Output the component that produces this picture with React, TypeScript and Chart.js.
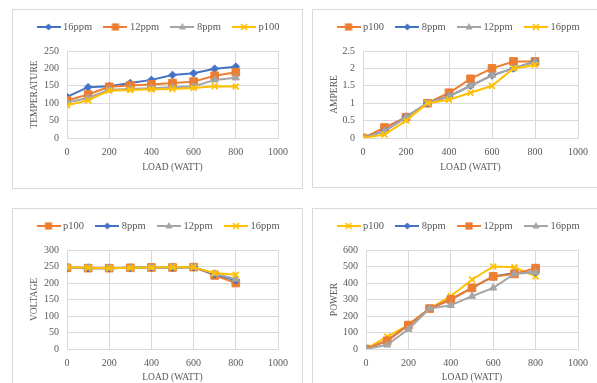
import React, { useEffect, useRef } from 'react';
import { Chart, registerables } from 'chart.js';

Chart.register(...registerables);

// ---------- data ----------
const loadWatt = [0, 100, 200, 300, 400, 500, 600, 700, 800];
const xTickValues = [0, 200, 400, 600, 800, 1000];

// Temperature chart
const temp16ppm = [118, 146, 149, 158, 167, 181, 186, 199, 205];
const temp12ppm = [108, 125, 147, 151, 154, 158, 162, 179, 189];
const temp8ppm = [102, 115, 139, 141, 143, 146, 148, 167, 173];
const tempP100 = [94, 108, 136, 138, 140, 141, 144, 149, 148];
const tempTicks = [0, 50, 100, 150, 200, 250];

// Ampere chart
const ampP100 = [0, 0.3, 0.6, 1.0, 1.3, 1.7, 2.0, 2.2, 2.2];
const amp8ppm = [0, 0.2, 0.6, 1.0, 1.2, 1.5, 1.8, 2.0, 2.2];
const amp12ppm = [0, 0.2, 0.6, 1.0, 1.2, 1.5, 1.8, 2.0, 2.2];
const amp16ppm = [0, 0.1, 0.5, 1.0, 1.1, 1.3, 1.5, 2.0, 2.1];
const ampTicks = [0, 0.5, 1, 1.5, 2, 2.5];

// Voltage chart
const voltP100 = [246, 245, 245, 246, 247, 247, 248, 223, 200];
const volt8ppm = [247, 245, 245, 246, 247, 247, 248, 226, 208];
const volt12ppm = [247, 246, 245, 246, 247, 248, 248, 228, 212];
const volt16ppm = [248, 246, 245, 246, 247, 248, 248, 230, 225];
const voltTicks = [0, 50, 100, 150, 200, 250, 300];

// Power chart
const powP100 = [0, 75, 145, 245, 320, 420, 500, 495, 440];
const pow8ppm = [0, 50, 145, 245, 300, 370, 440, 460, 465];
const pow12ppm = [0, 50, 145, 245, 300, 370, 440, 455, 490];
const pow16ppm = [0, 25, 120, 245, 265, 320, 370, 455, 465];
const powTicks = [0, 100, 200, 300, 400, 500, 600];

// ---------- styles ----------
const FONT = "'Liberation Serif', 'Times New Roman', serif";
const TEXT = '#595959';
const GRID = '#d9d9d9';
const BLUE = '#4472C4';
const ORANGE = '#ED7D31';
const GRAY = '#A5A5A5';
const YELLOW = '#FFC000';

type Marker = 'diamond' | 'square' | 'triangle' | 'x';
type Series = { label: string; data: number[]; color: string; marker: Marker };

const markerStyle: Record<Marker, { style: any; radius: number; bw: number }> = {
  diamond: { style: 'rectRot', radius: 3.8, bw: 1 },
  square: { style: 'rect', radius: 5.4, bw: 1 },
  triangle: { style: 'triangle', radius: 4.2, bw: 1 },
  x: { style: 'crossRot', radius: 4.2, bw: 1.8 },
};

function legendImage(color: string, marker: Marker): HTMLCanvasElement {
  const c = document.createElement('canvas');
  c.width = 24;
  c.height = 12;
  const g = c.getContext('2d')!;
  const cx = 12, cy = 6;
  g.strokeStyle = color;
  g.fillStyle = color;
  g.lineWidth = 2;
  g.beginPath();
  g.moveTo(0, cy);
  g.lineTo(24, cy);
  g.stroke();
  g.beginPath();
  if (marker === 'square') {
    g.fillRect(cx - 3.6, cy - 3.6, 7.2, 7.2);
  } else if (marker === 'diamond') {
    g.moveTo(cx, cy - 3.6);
    g.lineTo(cx + 3.6, cy);
    g.lineTo(cx, cy + 3.6);
    g.lineTo(cx - 3.6, cy);
    g.closePath();
    g.fill();
  } else if (marker === 'triangle') {
    g.moveTo(cx, cy - 4);
    g.lineTo(cx + 3.6, cy + 2.5);
    g.lineTo(cx - 3.6, cy + 2.5);
    g.closePath();
    g.fill();
  } else {
    g.lineWidth = 1.6;
    g.moveTo(cx - 3, cy - 3);
    g.lineTo(cx + 3, cy + 3);
    g.moveTo(cx + 3, cy - 3);
    g.lineTo(cx - 3, cy + 3);
    g.stroke();
  }
  return c;
}

type Spec = {
  frame: { left: number; top: number; width: number; height: number };
  area: { left: number; top: number; right: number; bottom: number };
  xTitleCenter: number;
  yTitle: string;
  yTicks: number[];
  series: Series[];
};

const specs: Spec[] = [
  {
    frame: { left: 12, top: 9, width: 291, height: 180 },
    area: { left: 54, top: 41, right: 265, bottom: 128 },
    xTitleCenter: 157.5,
    yTitle: 'TEMPERATURE',
    yTicks: tempTicks,
    series: [
      { label: '16ppm', data: temp16ppm, color: BLUE, marker: 'diamond' },
      { label: '12ppm', data: temp12ppm, color: ORANGE, marker: 'square' },
      { label: '8ppm', data: temp8ppm, color: GRAY, marker: 'triangle' },
      { label: 'p100', data: tempP100, color: YELLOW, marker: 'x' },
    ],
  },
  {
    frame: { left: 312, top: 9, width: 291, height: 179 },
    area: { left: 50, top: 41, right: 265, bottom: 128 },
    xTitleCenter: 157.5,
    yTitle: 'AMPERE',
    yTicks: ampTicks,
    series: [
      { label: 'p100', data: ampP100, color: ORANGE, marker: 'square' },
      { label: '8ppm', data: amp8ppm, color: BLUE, marker: 'diamond' },
      { label: '12ppm', data: amp12ppm, color: GRAY, marker: 'triangle' },
      { label: '16ppm', data: amp16ppm, color: YELLOW, marker: 'x' },
    ],
  },
  {
    frame: { left: 12, top: 208, width: 291, height: 192 },
    area: { left: 54, top: 41, right: 265, bottom: 140 },
    xTitleCenter: 168.5,
    yTitle: 'VOLTAGE',
    yTicks: voltTicks,
    series: [
      { label: 'p100', data: voltP100, color: ORANGE, marker: 'square' },
      { label: '8ppm', data: volt8ppm, color: BLUE, marker: 'diamond' },
      { label: '12ppm', data: volt12ppm, color: GRAY, marker: 'triangle' },
      { label: '16ppm', data: volt16ppm, color: YELLOW, marker: 'x' },
    ],
  },
  {
    frame: { left: 312, top: 208, width: 291, height: 192 },
    area: { left: 53, top: 41, right: 265, bottom: 140 },
    xTitleCenter: 168.5,
    yTitle: 'POWER',
    yTicks: powTicks,
    series: [
      { label: 'p100', data: powP100, color: YELLOW, marker: 'x' },
      { label: '8ppm', data: pow8ppm, color: BLUE, marker: 'diamond' },
      { label: '12ppm', data: pow12ppm, color: ORANGE, marker: 'square' },
      { label: '16ppm', data: pow16ppm, color: GRAY, marker: 'triangle' },
    ],
  },
];

const LEGEND_FONT = 10.5;
const LEGEND_PAD = 14;
const LEGEND_CENTER = 17;
const AXIS_TITLE_FONT = 9.5;
const PAD_LEFT = 13.3;
const Y_TITLE_CENTER = 21;

function ChartBox({ spec }: { spec: Spec }) {
  const ref = useRef<HTMLCanvasElement | null>(null);
  const W = spec.frame.width - 2;
  const H = spec.frame.height - 2;

  useEffect(() => {
    if (!ref.current) return;
    const n = spec.series.length;
    const images = spec.series.map((s) => legendImage(s.color, s.marker));
    const padTop = LEGEND_CENTER - LEGEND_PAD - LEGEND_FONT / 2;
    const legendH = LEGEND_FONT + LEGEND_PAD + 10;
    const extra = spec.area.top - padTop - legendH;
    const titleHalf = (AXIS_TITLE_FONT * 1.2) / 2;
    const xScaleBottom = spec.xTitleCenter + titleHalf;
    const padBottom = H - xScaleBottom;
    const xScaleH = xScaleBottom - spec.area.bottom;
    const yScaleW = spec.area.left - PAD_LEFT;
    const rightW = W - spec.area.right;
    const yt = spec.yTicks;
    const fmt = (v: any) => String(v);

    const chart = new Chart(ref.current, {
      type: 'line',
      data: {
        datasets: spec.series.map((s, i) => ({
          label: s.label,
          data: loadWatt.map((x, j) => ({ x, y: s.data[j] })),
          borderColor: s.color,
          backgroundColor: s.color,
          borderWidth: 2,
          pointStyle: markerStyle[s.marker].style,
          pointRadius: markerStyle[s.marker].radius,
          pointBorderWidth: markerStyle[s.marker].bw,
          pointBackgroundColor: s.color,
          pointBorderColor: s.color,
          tension: 0,
          fill: false,
          order: n - 1 - i,
        })),
      },
      options: {
        animation: false,
        responsive: false,
        events: [],
        layout: {
          padding: { left: PAD_LEFT - 1, right: 0, top: padTop, bottom: padBottom },
        },
        plugins: {
          tooltip: { enabled: false },
          title: {
            display: true,
            text: '',
            weight: 500,
            font: { size: 1, lineHeight: 1 },
            padding: { top: Math.max(0, extra - 1), bottom: 0 },
          } as any,
          legend: {
            display: true,
            position: 'top',
            align: 'start',
            labels: {
              usePointStyle: true,
              pointStyleWidth: 18.5,
              boxHeight: LEGEND_FONT,
              padding: LEGEND_PAD,
              color: TEXT,
              font: { family: FONT, size: LEGEND_FONT },
              generateLabels: (ch: any) =>
                ch.data.datasets.map((d: any, i: number) => ({
                  text: d.label,
                  fillStyle: d.borderColor,
                  strokeStyle: d.borderColor,
                  fontColor: TEXT,
                  lineWidth: 0,
                  pointStyle: images[i],
                  datasetIndex: i,
                  hidden: false,
                })),
            },
          },
        },
        scales: {
          x: {
            type: 'linear',
            min: xTickValues[0],
            max: xTickValues[xTickValues.length - 1],
            ticks: {
              stepSize: xTickValues[1] - xTickValues[0],
              autoSkip: false,
              padding: 8,
              color: TEXT,
              maxRotation: 0,
              callback: fmt,
              font: { family: FONT, size: 10 },
            },
            grid: { color: GRID, lineWidth: 1, drawTicks: false },
            border: { color: GRID },
            title: {
              display: true,
              text: 'LOAD (WATT)',
              color: TEXT,
              padding: 0,
              font: { family: FONT, size: AXIS_TITLE_FONT },
            },
            afterFit: (s: any) => {
              s.height = xScaleH;
            },
          },
          y: {
            type: 'linear',
            min: yt[0],
            max: yt[yt.length - 1],
            ticks: {
              stepSize: yt[1] - yt[0],
              autoSkip: false,
              padding: 8,
              color: TEXT,
              callback: fmt,
              font: { family: FONT, size: 10 },
            },
            grid: { color: GRID, lineWidth: 1, drawTicks: false },
            border: { color: GRID },
            title: {
              display: true,
              text: spec.yTitle,
              color: TEXT,
              padding: { top: Y_TITLE_CENTER - (PAD_LEFT - 1) - (AXIS_TITLE_FONT * 1.2) / 2, bottom: 0 },
              font: { family: FONT, size: AXIS_TITLE_FONT },
            },
            afterFit: (s: any) => {
              s.width = spec.area.left - (PAD_LEFT - 1);
            },
          },
          spacer: {
            type: 'linear',
            position: 'right',
            display: true,
            grid: { display: false, drawTicks: false },
            border: { display: false },
            ticks: { display: false },
            afterFit: (s: any) => {
              s.width = rightW;
            },
          },
        },
      } as any,
    });
    return () => chart.destroy();
  }, []);

  return (
    <div
      style={{
        position: 'absolute',
        left: spec.frame.left,
        top: spec.frame.top,
        width: spec.frame.width,
        height: spec.frame.height,
        boxSizing: 'border-box',
        border: '1px solid #d9d9d9',
        background: '#fff',
      }}
    >
      <canvas ref={ref} width={W} height={H} style={{ display: 'block', width: W, height: H }} />
    </div>
  );
}

export default function App() {
  return (
    <div
      style={{
        position: 'fixed',
        left: 0,
        top: 0,
        width: 597,
        height: 383,
        overflow: 'hidden',
        background: '#fff',
      }}
    >
      {specs.map((s, i) => (
        <ChartBox key={i} spec={s} />
      ))}
    </div>
  );
}
